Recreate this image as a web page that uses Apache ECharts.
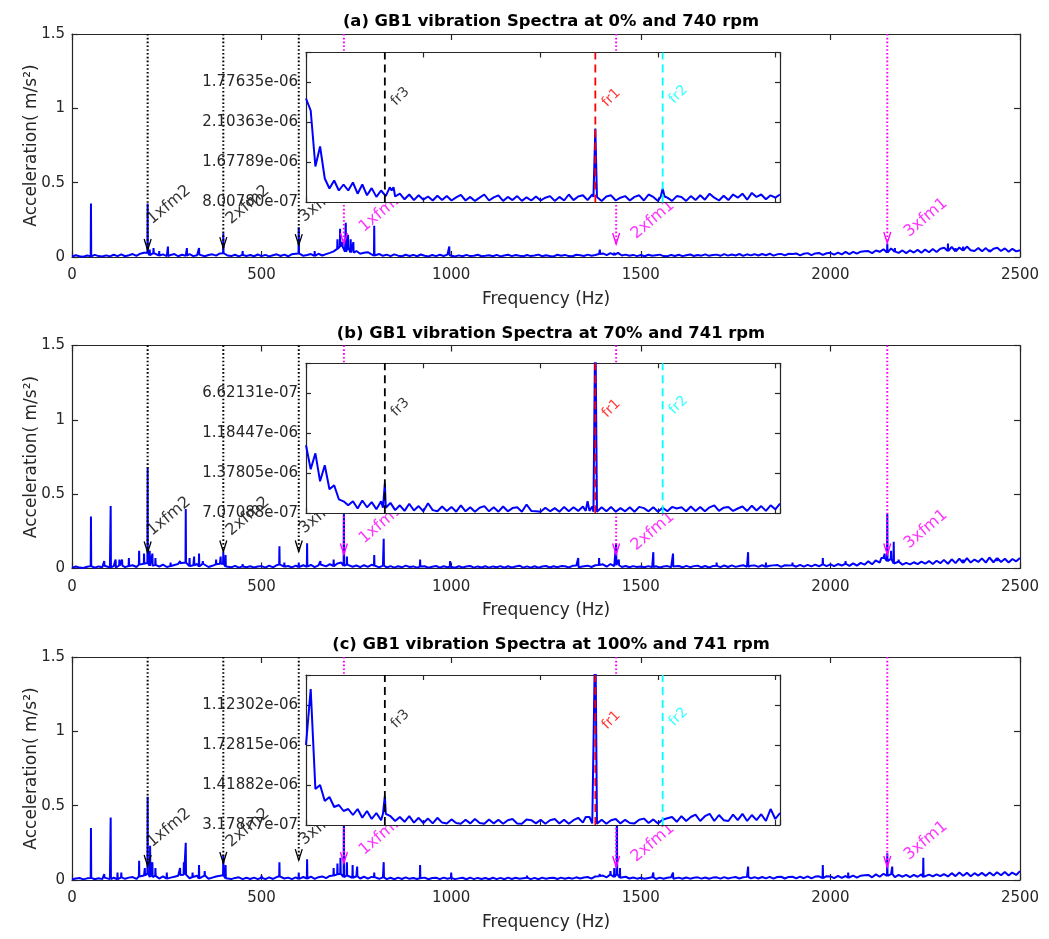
<!DOCTYPE html>
<html><head><meta charset="utf-8">
<script src="https://cdn.jsdelivr.net/npm/echarts@6/dist/echarts.min.js"></script>
<style>html,body{margin:0;padding:0;background:#fff}#c{width:1049px;height:939px}</style>
</head><body><div id="c"></div>
<script>
// ---------------- DATA ----------------
const panelTitles = [
  '(a) GB1 vibration Spectra at 0% and 740 rpm',
  '(b) GB1 vibration Spectra at 70% and 741 rpm',
  '(c) GB1 vibration Spectra at 100% and 741 rpm'
];
const xAxisName = 'Frequency (Hz)';
const yAxisName = 'Acceleration( m/s\u00B2)';

// main spectrum noise floor, one value every 10 Hz (0..2500 Hz), in 1e-3 m/s^2
const noiseStepHz = 10;
const noiseA = [
  3,12,5,2,10,4,14,6,3,11, 4,15,6,18,5,12,20,7,22,28, 30,12,26,10,18,6,14,20,5,15,
  8,20,6,12,16,5,13,18,9,24, 26,10,6,15,4,14,7,13,5,17, 6,14,4,12,18,7,16,5,19,22,
  24,8,13,20,7,22,10,19,28,38, 55,70,35,65,30,40,22,28,32,18, 10,20,8,16,6,18,9,5,15,7,
  14,5,17,8,4,13,6,15,7,16, 12,4,11,5,14,6,9,15,5,8, 12,5,14,4,10,15,6,13,8,5,
  13,6,10,16,5,12,7,4,15,8, 14,6,5,15,12,7,16,9,14,20, 24,12,26,14,28,10,16,8,14,6,
  13,5,15,8,12,16,6,5,14,7, 15,6,12,17,7,14,9,18,8,13, 16,8,19,9,17,10,20,8,18,11,
  19,10,20,12,22,9,18,21,11,22, 20,24,11,22,26,13,24,27,14,25, 28,16,30,18,34,20,35,22,36,38,
  40,26,44,35,52,30,58,36,28,44, 26,45,30,48,28,50,32,54,34,56, 62,40,68,38,64,44,70,46,40,60,
  38,60,36,56,62,40,58,35,55,38, 45
];
const noiseB = [
  4,13,6,3,12,16,5,14,8,18, 7,16,6,20,9,17,22,10,26,32, 38,18,24,12,26,10,16,24,30,36,
  40,16,22,30,14,32,10,18,28,32, 34,14,8,18,6,14,9,15,7,13, 16,6,19,8,22,28,12,17,7,19,
  10,22,12,25,9,21,27,14,30,16, 34,40,18,26,12,20,9,22,11,25, 20,8,19,7,16,6,15,8,19,10,
  14,6,13,15,5,12,17,6,15,8, 12,5,15,7,13,17,6,14,7,15, 6,14,8,16,5,15,7,13,19,6,
  14,6,15,5,13,17,7,15,8,16, 15,7,18,20,9,15,19,10,22,24, 28,12,30,16,22,10,17,8,16,10,
  14,8,16,9,15,7,14,16,8,14, 17,8,18,9,16,19,8,17,7,16, 18,9,20,10,21,11,17,22,12,19,
  21,11,22,12,18,21,24,11,22,20, 22,12,25,13,24,14,26,15,28,16, 28,16,30,20,32,18,35,19,38,26,
  48,28,54,40,70,50,65,34,45,26, 38,28,42,30,46,32,50,30,52,36, 58,32,62,36,66,38,70,40,60,44,
  68,40,74,42,70,44,66,40,64,48, 70
];
const noiseC = [
  3,10,13,4,11,14,5,12,6,16, 6,15,5,18,8,16,20,7,24,30, 45,20,28,10,24,9,16,22,28,34,
  36,12,20,28,11,30,8,16,24,28, 32,12,6,14,18,6,15,7,16,6, 15,6,18,7,20,25,10,16,6,18,
  8,20,10,22,8,19,24,12,27,30, 38,42,20,30,15,25,10,22,9,21, 19,8,18,6,15,5,16,7,18,8,
  14,7,12,16,5,13,15,6,16,8, 13,6,11,15,5,16,6,14,7,13, 5,15,6,14,5,16,7,15,8,12,
  15,6,14,5,16,8,13,15,7,16, 8,15,9,18,10,17,20,9,24,26, 30,18,36,20,40,15,22,10,17,9,
  15,8,14,18,7,16,8,15,19,8, 16,8,17,9,15,18,9,17,8,16, 18,9,19,10,16,20,10,18,21,11,
  19,10,20,11,21,9,20,22,10,21, 22,11,23,12,24,11,23,25,13,26, 24,13,28,14,27,15,30,16,29,32,
  34,18,38,22,42,28,40,20,34,22, 35,20,34,22,38,21,36,24,38,26, 40,24,46,26,50,28,48,25,46,30,
  48,28,50,30,52,32,54,30,50,34, 60
];
// discrete spectral lines [frequency Hz, amplitude m/s^2]
const peaksA = [[50,0.36],[199.5,0.36],[205,0.05],[215,0.06],[230,0.04],[253,0.07],[303,0.06],[335,0.06],
  [399,0.16],[450,0.04],[598,0.2],[640,0.04],[700,0.12],[707,0.19],[713,0.1],[722,0.23],[728,0.15],
  [735,0.12],[742,0.1],[797,0.21],[995,0.07],[1392,0.05],[1430,0.03],[2150,0.09],[2170,0.06],
  [2310,0.09],[2330,0.06],[2350,0.07],[2420,0.05]];
const peaksB = [[50,0.35],[85,0.05],[102,0.42],[115,0.06],[125,0.06],[132,0.06],[150,0.07],[177,0.12],
  [190,0.1],[199.5,0.68],[205,0.12],[212,0.1],[220,0.07],[260,0.04],[285,0.05],[300,0.4],[310,0.07],
  [322,0.08],[335,0.1],[345,0.05],[380,0.06],[392,0.08],[399,0.11],[405,0.09],[450,0.03],[547,0.15],
  [560,0.04],[598,0.04],[620,0.17],[655,0.05],[690,0.06],[717,0.45],[725,0.08],[797,0.09],[822,0.2],
  [918,0.06],[997,0.05],[1335,0.07],[1390,0.07],[1435,0.17],[1442,0.06],[1533,0.11],[1585,0.1],
  [1700,0.04],[1783,0.11],[1830,0.04],[1900,0.04],[1980,0.07],[2040,0.05],[2120,0.06],[2135,0.08],
  [2143,0.1],[2150,0.37],[2160,0.12],[2167,0.18],[2180,0.06],[2300,0.05],[2350,0.06],[2400,0.06],
  [2420,0.07],[2440,0.05]];
const peaksC = [[50,0.35],[85,0.04],[102,0.42],[120,0.05],[130,0.05],[177,0.13],[192,0.08],[199.5,0.56],
  [206,0.23],[212,0.12],[220,0.08],[250,0.05],[285,0.08],[295,0.12],[300,0.25],[318,0.05],[335,0.1],
  [350,0.06],[399,0.17],[405,0.1],[500,0.03],[547,0.12],[598,0.05],[620,0.14],[690,0.08],[700,0.11],
  [708,0.15],[717,0.5],[725,0.12],[740,0.1],[752,0.09],[797,0.05],[822,0.12],[918,0.1],[1000,0.05],
  [1200,0.03],[1392,0.04],[1420,0.06],[1430,0.08],[1437,0.6],[1445,0.08],[1533,0.05],[1585,0.05],
  [1783,0.09],[1980,0.1],[2047,0.05],[2150,0.18],[2163,0.09],[2245,0.15],[2300,0.05],[2400,0.05],
  [2440,0.05],[2480,0.05]];

// inset spectra: one value every 0.2 Hz (0..20.2 Hz), inset units
const insetStepHz = 0.2;
const insetNoiseA = [
  2.6,2.3,0.9,1.4,0.6,0.35,0.55,0.3,0.45,0.3, 0.5,0.22,0.45,0.18,0.36,0.14,0.3,0.16,0.38,0.15,
  0.22,0.08,0.2,0.06,0.18,0.07,0.15,0.05,0.17,0.06, 0.16,0.05,0.13,0.19,0.05,0.14,0.04,0.12,0.2,0.05,
  0.13,0.18,0.04,0.14,0.06,0.16,0.04,0.13,0.05,0.15, 0.05,0.12,0.16,0.04,0.14,0.05,0.2,0.06,0.15,0.18,
  0.06,0.2,0.14,0.04,0.15,0.18,0.05,0.12,0.16,0.05, 0.14,0.18,0.05,0.2,0.14,0.04,0.15,0.12,0.04,0.16,
  0.14,0.04,0.16,0.06,0.18,0.07,0.22,0.12,0.05,0.17, 0.06,0.2,0.12,0.22,0.07,0.24,0.14,0.2,0.08,0.18,
  0.12,0.2
];
const insetNoiseB = [
  1.7,1.1,1.5,0.8,1.2,0.6,0.7,0.35,0.3,0.2, 0.3,0.12,0.32,0.15,0.28,0.1,0.3,0.14,0.26,0.08,
  0.2,0.06,0.24,0.07,0.18,0.05,0.25,0.08,0.05,0.17, 0.06,0.16,0.04,0.2,0.05,0.15,0.04,0.14,0.18,0.05,
  0.15,0.04,0.17,0.05,0.13,0.15,0.04,0.22,0.06,0.05, 0.04,0.14,0.05,0.13,0.04,0.16,0.05,0.15,0.06,0.17,
  0.06,0.17,0.04,0.15,0.05,0.16,0.04,0.13,0.05,0.15, 0.04,0.16,0.13,0.05,0.15,0.04,0.14,0.05,0.16,0.12,
  0.15,0.05,0.17,0.06,0.16,0.05,0.15,0.2,0.06,0.14, 0.16,0.06,0.12,0.17,0.06,0.19,0.07,0.18,0.06,0.2,
  0.1,0.24
];
const insetNoiseC = [
  2.0,3.4,0.9,1.0,0.6,0.7,0.45,0.5,0.35,0.4, 0.25,0.4,0.18,0.35,0.15,0.3,0.12,0.28,0.22,0.1,
  0.2,0.08,0.22,0.06,0.18,0.05,0.16,0.04,0.18,0.06, 0.04,0.14,0.05,0.03,0.13,0.04,0.15,0.05,0.03,0.14,
  0.04,0.13,0.03,0.12,0.15,0.04,0.03,0.14,0.12,0.04, 0.13,0.03,0.12,0.15,0.04,0.13,0.03,0.12,0.18,0.06,
  0.2,0.04,0.03,0.13,0.03,0.12,0.15,0.04,0.13,0.05, 0.04,0.13,0.16,0.05,0.14,0.04,0.13,0.17,0.2,0.08,
  0.22,0.1,0.2,0.26,0.1,0.22,0.28,0.1,0.25,0.12, 0.1,0.26,0.12,0.28,0.1,0.25,0.12,0.27,0.1,0.4,
  0.15,0.3
];
const insetPeaksA = [[3.65,0.3],[12.33,1.85],[15.2,0.35]];
const insetPeaksB = [[3.36,0.75],[12.0,0.3],[12.33,5]];
const insetPeaksC = [[3.36,0.72],[12.0,0.22],[12.33,5]];
const insetTickLabelsA = ['8.00780e-07','1.67789e-06','2.10363e-06','1.77635e-06'];
const insetTickLabelsB = ['7.07088e-07','1.37805e-06','1.18447e-06','6.62131e-07'];
const insetTickLabelsC = ['3.17877e-07','1.41882e-06','1.72815e-06','1.12302e-06'];

// gear mesh harmonics (Hz) and arrow tip heights
const fm2Harmonics = [199.5, 399, 598];
const fm1Harmonics = [717, 1435, 2150];
const fm2TipsA = [0.047,0.06,0.08],  fm1TipsA = [0.087,0.087,0.094];
const fm2TipsB = [0.108,0.114,0.114], fm1TipsB = [0.094,0.094,0.094];
const fm2TipsC = [0.094,0.114,0.134], fm1TipsC = [0.114,0.087,0.087];
const fm2LabelNames = ['1xfm2','2xfm2','3xfm2'];
const fm1LabelNames = ['1xfm1','2xfm1','3xfm1'];
const fm2LabelAt = [[219,0.195],[427,0.195],[620,0.21]];
const fm1LabelAt = [[778,0.143],[1495,0.096],[2215,0.11]];

// rotational frequencies in inset (Hz)
const frNames = ['fr3','fr1','fr2'];
const frFreq = [3.36, 12.33, 15.2];
const frLabelAt = [[3.96,2.34],[12.95,2.31],[15.81,2.39]];

// ---------------- STYLE / LAYOUT ----------------
const FONT = 'DejaVu Sans';
const AX = '#262626';
const BLUE = '#0000FF';
const MAG = '#FF00FF';
const frColors = ['#000000','#FF0000','#00FFFF'];
const X_MAX = 2500, Y_MAX = 1.5, IN_X_MAX = 20.2, IN_Y_MAX = 3.75;
const mainTops = [34, 345.5, 657];
const insetTops = [52.5, 363.3, 675];
const titleTops = [9, 321, 632];
const MAIN_H = 223, IN_H = 150;

const panels = [
  {noise: noiseA, peaks: peaksA, inNoise: insetNoiseA, inPeaks: insetPeaksA, inLabels: insetTickLabelsA, t2: fm2TipsA, t1: fm1TipsA},
  {noise: noiseB, peaks: peaksB, inNoise: insetNoiseB, inPeaks: insetPeaksB, inLabels: insetTickLabelsB, t2: fm2TipsB, t1: fm1TipsB},
  {noise: noiseC, peaks: peaksC, inNoise: insetNoiseC, inPeaks: insetPeaksC, inLabels: insetTickLabelsC, t2: fm2TipsC, t1: fm1TipsC}
];

function buildLine(step, base, scale, peaks, halfW) {
  const pts = base.map((v, i) => [Math.round(i * step * 1000) / 1000, v * scale]);
  peaks.forEach(([f, a]) => {
    const b = base[Math.round(f / step)] * scale;
    pts.push([f - halfW, b], [f, a], [f + halfW, b]);
  });
  pts.sort((p, q) => p[0] - q[0]);
  return pts;
}

const grid = [], xAxis = [], yAxis = [], series = [], title = [];
const lineStyleAx = {color: AX, width: 1.2};

panels.forEach((P, p) => {
  title.push({text: panelTitles[p], left: 546, top: titleTops[p], textAlign: 'center',
    textStyle: {fontFamily: FONT, fontSize: 16.4, fontWeight: 'bold', color: '#000'}});
  grid.push({left: 72, right: 29, top: mainTops[p], height: MAIN_H, outerBoundsMode: 'none', containLabel: false});
  grid.push({left: 306, width: 474, top: insetTops[p], height: IN_H, outerBoundsMode: 'none', containLabel: false,
    show: true, backgroundColor: '#ffffff', borderWidth: 0, z: 10});
  const gm = 2 * p, gi = 2 * p + 1;
  xAxis.push({gridIndex: gm, type: 'value', min: 0, max: X_MAX, interval: 500, position: 'bottom',
    name: xAxisName, nameLocation: 'middle', nameGap: 34, nameMoveOverlap: false,
    nameTextStyle: {fontFamily: FONT, fontSize: 17, color: AX},
    axisLine: {show: true, onZero: false, lineStyle: lineStyleAx},
    axisTick: {show: true, inside: true, length: 6, lineStyle: lineStyleAx},
    axisLabel: {fontFamily: FONT, fontSize: 15, color: AX, margin: 11, formatter: v => String(v)},
    splitLine: {show: false}});
  xAxis.push({gridIndex: gm, type: 'value', min: 0, max: X_MAX, interval: 500, position: 'top',
    axisLine: {show: true, onZero: false, lineStyle: lineStyleAx},
    axisTick: {show: true, inside: true, length: 6, lineStyle: lineStyleAx},
    axisLabel: {show: false}, splitLine: {show: false}});
  xAxis.push({gridIndex: gi, type: 'value', min: 0, max: IN_X_MAX, interval: 5, position: 'bottom', z: 11,
    axisLine: {show: true, onZero: false, lineStyle: lineStyleAx},
    axisTick: {show: true, inside: true, length: 5, lineStyle: lineStyleAx},
    axisLabel: {show: false}, splitLine: {show: false}});
  xAxis.push({gridIndex: gi, type: 'value', min: 0, max: IN_X_MAX, interval: 5, position: 'top', z: 11,
    axisLine: {show: true, onZero: false, lineStyle: lineStyleAx},
    axisTick: {show: true, inside: true, length: 5, lineStyle: lineStyleAx},
    axisLabel: {show: false}, splitLine: {show: false}});
  yAxis.push({gridIndex: gm, type: 'value', min: 0, max: Y_MAX, interval: 0.5, position: 'left',
    name: yAxisName, nameLocation: 'middle', nameGap: 32, nameMoveOverlap: false,
    nameTextStyle: {fontFamily: FONT, fontSize: 17, color: AX},
    axisLine: {show: true, onZero: false, lineStyle: lineStyleAx},
    axisTick: {show: true, inside: true, length: 6, lineStyle: lineStyleAx},
    axisLabel: {fontFamily: FONT, fontSize: 15, color: AX, margin: 7}, splitLine: {show: false}});
  yAxis.push({gridIndex: gm, type: 'value', min: 0, max: Y_MAX, interval: 0.5, position: 'right',
    axisLine: {show: true, onZero: false, lineStyle: lineStyleAx},
    axisTick: {show: true, inside: true, length: 6, lineStyle: lineStyleAx},
    axisLabel: {show: false}, splitLine: {show: false}});
  const labels = P.inLabels;
  yAxis.push({gridIndex: gi, type: 'value', min: 0, max: IN_Y_MAX, interval: 1, position: 'left', z: 11,
    axisLine: {show: true, onZero: false, lineStyle: lineStyleAx},
    axisTick: {show: true, inside: true, length: 5, lineStyle: lineStyleAx},
    axisLabel: {fontFamily: FONT, fontSize: 15, color: AX, margin: 8,
      formatter: v => { const k = Math.round(v); return (Math.abs(v - k) < 1e-6 && k < labels.length) ? labels[k] : ''; }},
    splitLine: {show: false}});
  yAxis.push({gridIndex: gi, type: 'value', min: 0, max: IN_Y_MAX, interval: 1, position: 'right', z: 11,
    axisLine: {show: true, onZero: false, lineStyle: lineStyleAx},
    axisTick: {show: true, inside: true, length: 5, lineStyle: lineStyleAx},
    axisLabel: {show: false}, splitLine: {show: false}});

  const xm = 4 * p, xi = 4 * p + 2;
  series.push({type: 'line', xAxisIndex: xm, yAxisIndex: xm, z: 2, silent: true, animation: false,
    showSymbol: false, symbol: 'none', lineStyle: {color: BLUE, width: 2},
    data: buildLine(noiseStepHz, P.noise, 0.001, P.peaks, 0.7)});
  const arrowSeries = (freqs, tips, color) => ({
    type: 'custom', coordinateSystem: 'cartesian2d', xAxisIndex: xm, yAxisIndex: xm, z: 3, silent: true,
    animation: false, clip: false,
    data: freqs.map((f, i) => [f, tips[i]]),
    renderItem: (params, api) => {
      const p0 = api.coord([api.value(0), Y_MAX]);
      const p1 = api.coord([api.value(0), api.value(1)]);
      return {type: 'group', children: [
        {type: 'line', shape: {x1: p0[0], y1: p0[1], x2: p1[0], y2: p1[1]},
          style: {stroke: color, lineWidth: 2, lineDash: [1.6, 2.2]}},
        {type: 'polyline', shape: {points: [[p1[0] - 3.5, p1[1] - 11], [p1[0], p1[1]], [p1[0] + 3.5, p1[1] - 11]]},
          style: {stroke: color, lineWidth: 1.3, fill: null}}
      ]};
    }
  });
  series.push(arrowSeries(fm2Harmonics, P.t2, '#000000'));
  series.push(arrowSeries(fm1Harmonics, P.t1, MAG));
  const lab = (names, at, color) => names.map((n, i) => ({name: n, value: at[i], label: {color: color}}));
  series.push({type: 'scatter', xAxisIndex: xm, yAxisIndex: xm, z: 4, silent: true, animation: false,
    symbolSize: 1, itemStyle: {color: 'rgba(0,0,0,0)'},
    label: {show: true, position: [0, 0], align: 'left', verticalAlign: 'bottom', rotate: 40,
      fontFamily: FONT, fontSize: 16, formatter: q => q.name},
    data: lab(fm2LabelNames, fm2LabelAt, '#000000').concat(lab(fm1LabelNames, fm1LabelAt, MAG))});
  series.push({type: 'line', xAxisIndex: xi, yAxisIndex: xi, z: 12, silent: true, animation: false,
    showSymbol: false, symbol: 'none', lineStyle: {color: BLUE, width: 2}, clip: true,
    data: buildLine(insetStepHz, P.inNoise, 1, P.inPeaks, 0.08)});
  series.push({type: 'custom', coordinateSystem: 'cartesian2d', xAxisIndex: xi, yAxisIndex: xi, z: 13,
    silent: true, animation: false, clip: false,
    data: frFreq.map((f, i) => [f, i]),
    renderItem: (params, api) => {
      const p0 = api.coord([api.value(0), 0]);
      const p1 = api.coord([api.value(0), IN_Y_MAX]);
      return {type: 'line', shape: {x1: p0[0], y1: p0[1], x2: p1[0], y2: p1[1]},
        style: {stroke: frColors[api.value(1)], lineWidth: 1.8, lineDash: [8, 5]}};
    }});
  series.push({type: 'scatter', xAxisIndex: xi, yAxisIndex: xi, z: 14, silent: true, animation: false,
    symbolSize: 1, itemStyle: {color: 'rgba(0,0,0,0)'},
    label: {show: true, position: [0, 0], align: 'left', verticalAlign: 'bottom', rotate: 45,
      fontFamily: FONT, fontSize: 14, formatter: q => q.name},
    data: frNames.map((n, i) => ({name: n, value: frLabelAt[i], label: {color: frColors[i]}}))});
});

const chart = echarts.init(document.getElementById('c'), null, {renderer: 'canvas'});
chart.setOption({backgroundColor: '#ffffff', animation: false, title, grid, xAxis, yAxis, series});
</script>
</body></html>
